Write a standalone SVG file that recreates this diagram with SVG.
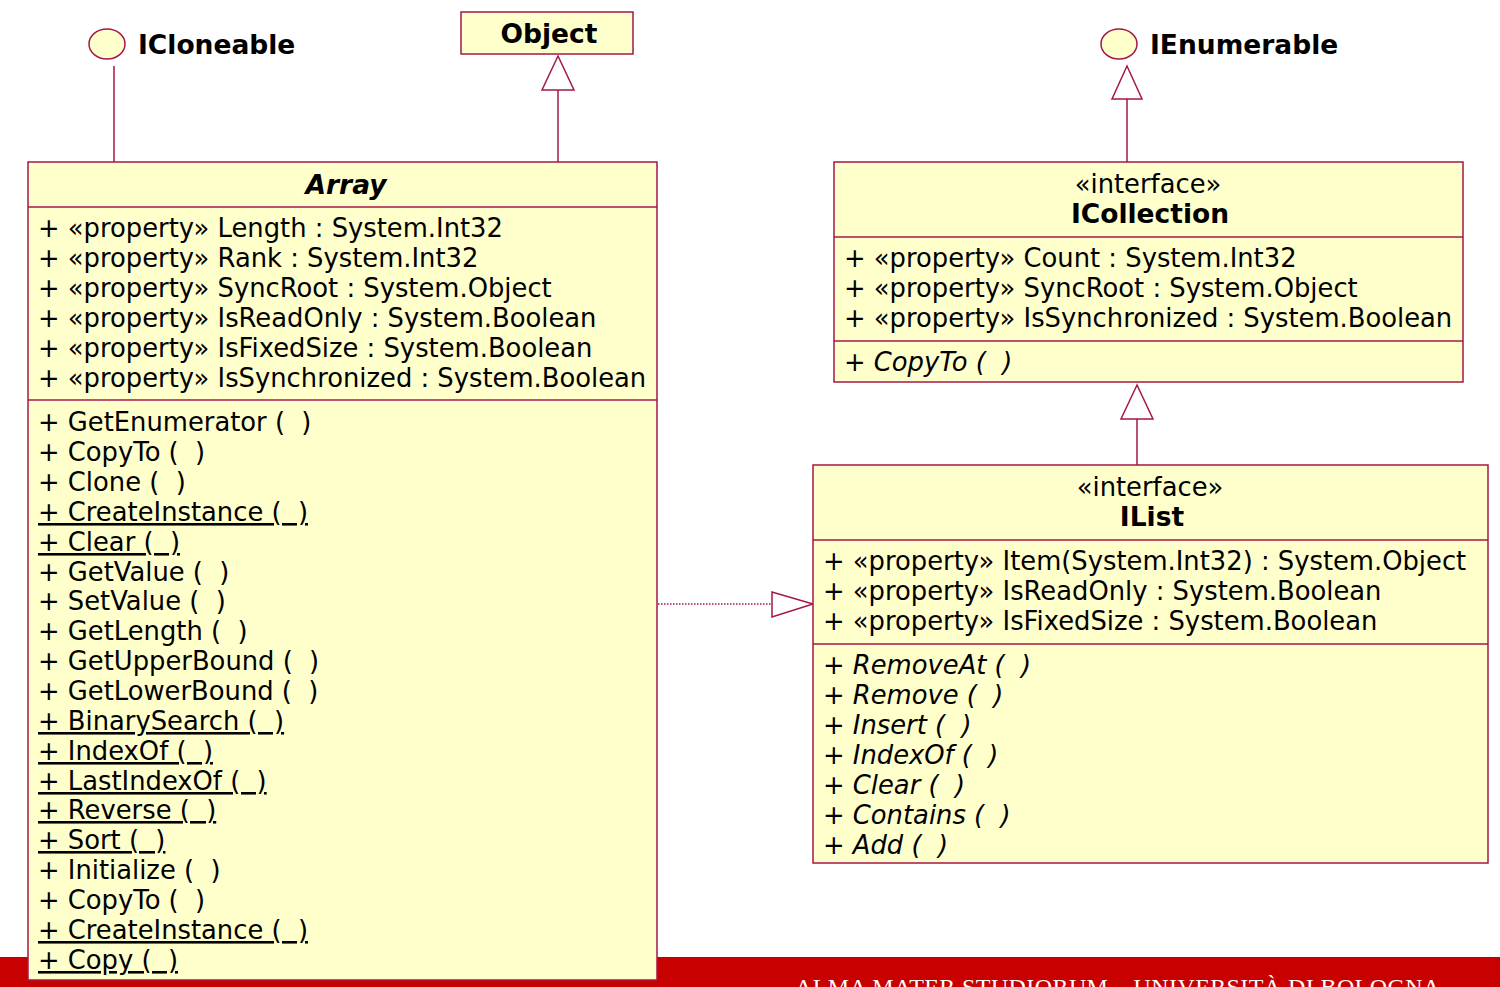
<svg xmlns="http://www.w3.org/2000/svg" width="1500" height="987" viewBox="0 0 1500 987">
<style>
.box{fill:#FFFFCC;stroke:#A5174A;stroke-width:1.5}
.sep{stroke:#A5174A;stroke-width:1.5}
.ln{stroke:#A5174A;stroke-width:1.5;fill:none}
.tri{fill:#FFFFFF;stroke:#A5174A;stroke-width:1.5}
.t{font-family:"DejaVu Sans",Verdana,sans-serif;font-size:25.8px;fill:#000;white-space:pre}
.b{font-weight:bold;font-size:26.5px}
.i{font-style:italic}
.u{text-decoration:underline}
.c{text-anchor:middle}
</style>
<rect x="0" y="957" width="1500" height="30" fill="#C80000"/>
<text x="795" y="995" font-family="Liberation Serif,serif" font-size="24" fill="#FFFFFF" letter-spacing="0.4">ALMA MATER STUDIORUM – UNIVERSITÀ DI BOLOGNA</text>

<g id="connectors">
<line class="ln" x1="114" y1="66" x2="114" y2="162"/>
<line class="ln" x1="558" y1="90" x2="558" y2="162"/>
<polygon class="tri" points="558,56 542,90 574,90"/>
<line class="ln" x1="1127" y1="99" x2="1127" y2="162"/>
<polygon class="tri" points="1127,66 1112,99 1142,99"/>
<line class="ln" x1="1137" y1="419" x2="1137" y2="465"/>
<polygon class="tri" points="1137,385 1121,419 1153,419"/>
<line x1="658" y1="604" x2="772" y2="604" stroke="#A5174A" stroke-width="1.5" stroke-dasharray="1.5,1.5"/>
<polygon class="tri" points="813,604 772,592 772,617"/>
</g>

<g id="ICloneable">
<ellipse class="box" cx="107" cy="44" rx="18" ry="15"/>
<text class="t b" x="138" y="54">ICloneable</text>
</g>

<g id="Object">
<rect class="box" x="461" y="12" width="172" height="42"/>
<text class="t b c" x="549" y="43">Object</text>
</g>

<g id="IEnumerable">
<ellipse class="box" cx="1119" cy="44" rx="18" ry="15"/>
<text class="t b" x="1150" y="54">IEnumerable</text>
</g>

<g id="Array">
<rect class="box" x="28" y="162" width="629" height="818"/>
<line class="sep" x1="28" y1="207" x2="657" y2="207"/>
<line class="sep" x1="28" y1="400" x2="657" y2="400"/>
<text class="t b i c" x="346" y="194">Array</text>
<text class="t" x="38" y="237">+ «property» Length : System.Int32</text>
<text class="t" x="38" y="267">+ «property» Rank : System.Int32</text>
<text class="t" x="38" y="297">+ «property» SyncRoot : System.Object</text>
<text class="t" x="38" y="327">+ «property» IsReadOnly : System.Boolean</text>
<text class="t" x="38" y="357">+ «property» IsFixedSize : System.Boolean</text>
<text class="t" x="38" y="387">+ «property» IsSynchronized : System.Boolean</text>
<text class="t" x="38" y="431">+ GetEnumerator (  )</text>
<text class="t" x="38" y="461">+ CopyTo (  )</text>
<text class="t" x="38" y="491">+ Clone (  )</text>
<text class="t u" x="38" y="521">+ CreateInstance (  )</text>
<text class="t u" x="38" y="551">+ Clear (  )</text>
<text class="t" x="38" y="581">+ GetValue (  )</text>
<text class="t" x="38" y="610">+ SetValue (  )</text>
<text class="t" x="38" y="640">+ GetLength (  )</text>
<text class="t" x="38" y="670">+ GetUpperBound (  )</text>
<text class="t" x="38" y="700">+ GetLowerBound (  )</text>
<text class="t u" x="38" y="730">+ BinarySearch (  )</text>
<text class="t u" x="38" y="760">+ IndexOf (  )</text>
<text class="t u" x="38" y="790">+ LastIndexOf (  )</text>
<text class="t u" x="38" y="819">+ Reverse (  )</text>
<text class="t u" x="38" y="849">+ Sort (  )</text>
<text class="t" x="38" y="879">+ Initialize (  )</text>
<text class="t" x="38" y="909">+ CopyTo (  )</text>
<text class="t u" x="38" y="939">+ CreateInstance (  )</text>
<text class="t u" x="38" y="969">+ Copy (  )</text>
</g>

<g id="ICollection">
<rect class="box" x="834" y="162" width="629" height="220"/>
<line class="sep" x1="834" y1="237" x2="1463" y2="237"/>
<line class="sep" x1="834" y1="341" x2="1463" y2="341"/>
<text class="t c" x="1148" y="193">«interface»</text>
<text class="t b c" x="1150" y="223">ICollection</text>
<text class="t" x="844" y="267">+ «property» Count : System.Int32</text>
<text class="t" x="844" y="297">+ «property» SyncRoot : System.Object</text>
<text class="t" x="844" y="327">+ «property» IsSynchronized : System.Boolean</text>
<text class="t i" x="844" y="371">+ CopyTo (  )</text>
</g>

<g id="IList">
<rect class="box" x="813" y="465" width="675" height="398"/>
<line class="sep" x1="813" y1="540" x2="1488" y2="540"/>
<line class="sep" x1="813" y1="644" x2="1488" y2="644"/>
<text class="t c" x="1150" y="496">«interface»</text>
<text class="t b c" x="1152" y="526">IList</text>
<text class="t" x="823" y="570">+ «property» Item(System.Int32) : System.Object</text>
<text class="t" x="823" y="600">+ «property» IsReadOnly : System.Boolean</text>
<text class="t" x="823" y="630">+ «property» IsFixedSize : System.Boolean</text>
<text class="t i" x="823" y="674">+ RemoveAt (  )</text>
<text class="t i" x="823" y="704">+ Remove (  )</text>
<text class="t i" x="823" y="734">+ Insert (  )</text>
<text class="t i" x="823" y="764">+ IndexOf (  )</text>
<text class="t i" x="823" y="794">+ Clear (  )</text>
<text class="t i" x="823" y="824">+ Contains (  )</text>
<text class="t i" x="823" y="854">+ Add (  )</text>
</g>
</svg>
